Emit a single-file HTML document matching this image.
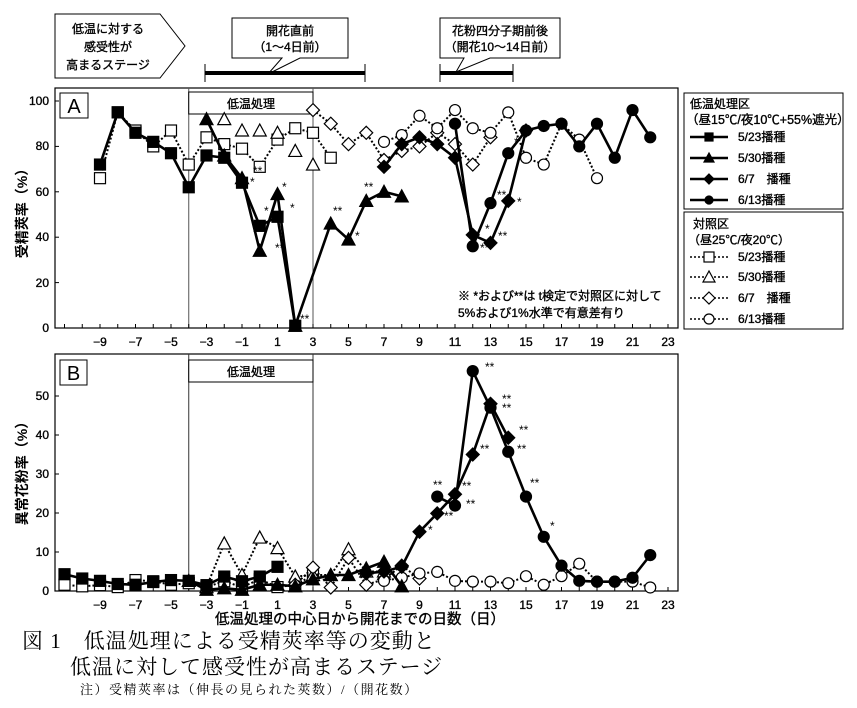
<!DOCTYPE html>
<html><head><meta charset="utf-8">
<style>
body{margin:0;background:#fff;}
svg{display:block;font-family:"Liberation Sans","Noto Sans CJK JP",sans-serif;}
.t{font-size:12px;fill:#000}
.b{stroke:#000;stroke-width:0.35}
.cap{font-family:"Liberation Serif","Noto Serif CJK SC",serif;font-size:21px;letter-spacing:1px}
</style></head>
<body>
<svg id="s" width="857" height="708" viewBox="0 0 857 708" xmlns="http://www.w3.org/2000/svg">
<rect width="857" height="708" fill="#fff"/>
<polygon points="55,14 160,14 185,46 160,78 55,78" fill="#fff" stroke="#000" stroke-width="1"/>
<g class="b">
<text class="t" x="108" y="33" text-anchor="middle" font-size="14">低温に対する</text>
<text class="t" x="108" y="51" text-anchor="middle" font-size="14">感受性が</text>
<text class="t" x="108" y="69" text-anchor="middle" font-size="14">高まるステージ</text>
</g>
<polygon points="232,18 348,18 348,58 300,58 268,74 282,58 232,58" fill="#fff" stroke="#000"/>
<text class="t b" x="290" y="35" text-anchor="middle">開花直前</text>
<text class="t b" x="290" y="51" text-anchor="middle">（1～4日前）</text>
<polygon points="440,18 560,18 560,58 490,58 456,72 464,58 440,58" fill="#fff" stroke="#000"/>
<text class="t b" x="500" y="35" text-anchor="middle">花粉四分子期前後</text>
<text class="t b" x="500" y="51" text-anchor="middle">（開花10～14日前）</text>
<line x1="205" y1="73" x2="365" y2="73" stroke="#000" stroke-width="4"/>
<line x1="205" y1="64" x2="205" y2="82" stroke="#000"/><line x1="365" y1="64" x2="365" y2="82" stroke="#000"/>
<line x1="440" y1="73" x2="513" y2="73" stroke="#000" stroke-width="4"/>
<line x1="440" y1="64" x2="440" y2="82" stroke="#000"/><line x1="513" y1="64" x2="513" y2="82" stroke="#000"/>

<rect x="55" y="88" width="623" height="240" fill="none" stroke="#000" stroke-width="1.2"/>
<rect x="55" y="354" width="623" height="237" fill="none" stroke="#000" stroke-width="1.2"/>
<rect x="60" y="93" width="28" height="25" fill="#fff" stroke="#000"/>
<text x="74" y="113" text-anchor="middle" font-size="20">A</text>
<rect x="60" y="360" width="27" height="25" fill="#fff" stroke="#000"/>
<text x="73.5" y="380" text-anchor="middle" font-size="20">B</text>
<line x1="188.75" y1="88" x2="188.75" y2="328" stroke="#555"/>
<line x1="313" y1="88" x2="313" y2="328" stroke="#555"/>
<rect x="188.75" y="92" width="124.25" height="22" fill="#fff" stroke="#000"/>
<text class="t b" x="251" y="108" text-anchor="middle">低温処理</text>
<line x1="188.75" y1="354" x2="188.75" y2="591" stroke="#333"/>
<line x1="313" y1="354" x2="313" y2="591" stroke="#333"/>
<rect x="188.75" y="360" width="124.25" height="22" fill="#fff" stroke="#000"/>
<text class="t b" x="251" y="376" text-anchor="middle">低温処理</text>

<g class="t b" text-anchor="end" font-size="11">
<text x="49" y="105">100</text><text x="49" y="150">80</text><text x="49" y="196">60</text>
<text x="49" y="241">40</text><text x="49" y="287">20</text><text x="49" y="332">0</text>
<text x="49" y="400">50</text><text x="49" y="439">40</text><text x="49" y="478">30</text>
<text x="49" y="517">20</text><text x="49" y="556">10</text><text x="49" y="595">0</text>
</g>
<text transform="translate(27,210) rotate(-90)" text-anchor="middle" font-size="14" font-weight="bold">受精莢率（%）</text>
<text transform="translate(27,470) rotate(-90)" text-anchor="middle" font-size="14" font-weight="bold">異常花粉率（%）</text>

<g class="t b" text-anchor="middle" font-size="11" id="xl"></g>

<text class="t b" x="458" y="300" font-size="12.5">※ *および**は t検定で対照区に対して</text>
<text class="t b" x="458" y="317" font-size="12.5">5%および1%水準で有意差有り</text>

<text class="b" x="360" y="624" text-anchor="middle" font-size="14.5">低温処理の中心日から開花までの日数（日）</text>

<rect x="684" y="93" width="159" height="116" fill="#fff" stroke="#000"/>
<rect x="684" y="212" width="159" height="117" fill="#fff" stroke="#000"/>
<g class="t b" font-size="13">
<text x="690" y="108">低温処理区</text>
<text x="686" y="124" font-size="12.5">（昼15℃/夜10℃+55%遮光）</text>
<text x="738" y="141">5/23播種</text><text x="738" y="162">5/30播種</text>
<text x="738" y="183">6/7　播種</text><text x="738" y="204">6/13播種</text>
<text x="693" y="228">対照区</text>
<text x="688" y="244">（昼25℃/夜20℃）</text>
<text x="738" y="261">5/23播種</text><text x="738" y="281">5/30播種</text>
<text x="738" y="302">6/7　播種</text><text x="738" y="323">6/13播種</text>
</g>

<g id="g"></g>

<text class="cap" x="22" y="648">図 1　低温処理による受精莢率等の変動と</text>
<text class="cap" x="70" y="674">低温に対して感受性が高まるステージ</text>
<text x="80" y="694" font-size="13" letter-spacing="1.5" font-family="'Liberation Serif','Noto Serif CJK SC',serif">注）受精莢率は（伸長の見られた莢数）/（開花数）</text>
</svg>
<script>
var NS="http://www.w3.org/2000/svg",g=document.getElementById("g"),xl=document.getElementById("xl");
function el(n,a,p){var e=document.createElementNS(NS,n);for(var k in a)e.setAttribute(k,a[k]);(p||g).appendChild(e);return e;}
function X(d){return 259.75+17.75*d;}
function YA(v){return 328-2.27*v;}
function YB(v){return 591-3.9*v;}
for(var d=-11;d<=23;d++){var x=X(d);
 el("line",{x1:x,y1:324,x2:x,y2:328,stroke:"#000"});
 el("line",{x1:x,y1:587,x2:x,y2:591,stroke:"#000"});
 if(d%2!=0&&d>=-9){var a=el("text",{x:x,y:346},xl);a.textContent=(d<0?"−"+(-d):d);
  var b=el("text",{x:x,y:609},xl);b.textContent=(d<0?"−"+(-d):d);}}
[0,20,40,60,80,100].forEach(function(v){el("line",{x1:55,y1:YA(v),x2:59,y2:YA(v),stroke:"#000"});});
[0,10,20,30,40,50].forEach(function(v){el("line",{x1:55,y1:YB(v),x2:59,y2:YB(v),stroke:"#000"});});
function mk(t,x,y,fill,s){s=s||5.5;var st={fill:fill?"#000":"#fff",stroke:"#000","stroke-width":1.2};
 if(t=="s")el("rect",Object.assign({x:x-s,y:y-s,width:2*s,height:2*s},st));
 if(t=="t")el("polygon",Object.assign({points:(x)+","+(y-s-1)+" "+(x-s-1)+","+(y+s)+" "+(x+s+1)+","+(y+s)},st));
 if(t=="d")el("polygon",Object.assign({points:x+","+(y-s-1)+" "+(x+s+1)+","+y+" "+x+","+(y+s+1)+" "+(x-s-1)+","+y},st));
 if(t=="c")el("circle",Object.assign({cx:x,cy:y,r:s},st));}
function ser(data,Y,t,fill,line){
 if(line){var p=data.map(function(q){return X(q[0])+","+Y(q[1]);}).join(" ");
  el("polyline",fill?{points:p,fill:"none",stroke:"#000","stroke-width":2.6}:{points:p,fill:"none",stroke:"#000","stroke-width":2,"stroke-dasharray":"2,2"});}
 data.forEach(function(q){mk(t,X(q[0]),Y(q[1]),fill);});}
ser([[-9,66],[-8,95],[-7,87],[-6,80],[-5,87],[-4,72],[-3,84],[-2,81],[-1,79],[0,71],[1,83],[2,88],[3,86],[4,75]],YA,"s",0,1);
ser([[-2,92],[-1,87],[0,87],[1,86],[2,78],[3,72]],YA,"t",0,0);
ser([[3,96],[4,90],[5,81],[6,86],[7,74],[8,78],[9,80],[10,86],[11,81],[12,72],[13,84]],YA,"d",0,1);
ser([[7,82],[8,85],[9,93.5],[10,88],[11,96],[12,88],[13,86],[14,95],[15,75],[16,72],[17,90],[18,83],[19,66]],YA,"c",0,1);
ser([[-9,72],[-8,95],[-7,86],[-6,82],[-5,77],[-4,62],[-3,76],[-2,75],[-1,64],[0,45],[1,49],[2,1]],YA,"s",1,1);
ser([[-3,92],[-2,76],[-1,66],[0,34],[1,59],[2,1],[4,46],[5,39],[6,56],[7,60],[8,58]],YA,"t",1,1);
ser([[7,71],[8,81],[9,84],[10,81],[11,75],[12,41],[13,37.5],[14,56],[15,87]],YA,"d",1,1);
ser([[11,90],[12,36],[13,55],[14,77],[15,87],[16,89],[17,90],[18,80],[19,90],[20,75],[21,96],[22,84]],YA,"c",1,1);
ser([[-11,1.6],[-10,1.2],[-9,1.5],[-8,1],[-7,2.8],[-6,2.5],[-5,1.6],[-4,2],[-3,1],[-2,2.5],[-1,1],[0,3],[1,1],[2,1.6],[3,4]],YB,"s",0,1);
ser([[-3,1],[-2,12.2],[-1,4.1],[0,13.7],[1,11],[2,3.7],[3,4.1],[4,4.1],[5,10.7],[6,5],[7,5]],YB,"t",0,1);
ser([[2,1.6],[3,6],[4,0.9],[5,8.5],[6,1.6],[7,3],[8,6.5],[9,3.2]],YB,"d",0,1);
ser([[7,2.6],[8,3.4],[9,4.5],[10,4.9],[11,2.6],[12,2.4],[13,2.4],[14,2],[15,3.8],[16,1.6],[17,3.8],[18,7],[19,2.4],[20,2.4],[21,2.4],[22,0.9]],YB,"c",0,1);
ser([[-11,4.3],[-10,3.2],[-9,2.6],[-8,1.8],[-7,1.6],[-6,2.3],[-5,2.8],[-4,2.6],[-3,1.5],[-2,3.7],[-1,2.5],[0,3.7],[1,6.2]],YB,"s",1,1);
ser([[-4,2.6],[-3,0.3],[-2,0.7],[-1,0.3],[0,1.6],[1,1.6],[2,1.2],[3,3],[4,4.1],[5,4.1],[6,5.8],[7,7.5],[8,1.2]],YB,"t",1,1);
ser([[6,4.5],[7,5],[8,6.2],[9,15.2],[10,19.9],[11,24.8],[12,35],[13,48],[14,39.3]],YB,"d",1,1);
ser([[10,24.2],[11,21.9],[12,56.4],[13,47],[14,35.7],[15,24.2],[16,13.9],[17,6.5],[18,2.6],[19,2.4],[20,2.4],[21,3.4],[22,9.2]],YB,"c",1,1);
[[253,175,"**"],[250,186,"*"],[264,215,"*"],[282,191,"*"],[290,212,"*"],[275,252,"**"],[300,323,"**"],[333,215,"**"],[355,240,"*"],[364,191,"**"],
 [514,146,"*"],[497,199,"**"],[517,206,"*"],[485,233,"*"],[498,240,"**"],[480,252,"**"],
 [485,371,"**"],[502,403,"**"],[502,412,"**"],[519,434,"**"],[480,453,"**"],[517,453,"**"],[433,489,"**"],[462,490,"**"],[466,508,"**"],[444,520,"**"],[428,534,"*"],[530,487,"**"],[550,530,"*"]
].forEach(function(s){var t=el("text",{x:s[0],y:s[1],"font-size":12});t.textContent=s[2];});
[[137,"s"],[158,"t"],[179,"d"],[200,"c"]].forEach(function(r){el("line",{x1:690,y1:r[0],x2:728,y2:r[0],stroke:"#000","stroke-width":2.5});mk(r[1],709,r[0],1,4);});
[[257,"s"],[277,"t"],[298,"d"],[319,"c"]].forEach(function(r){el("line",{x1:690,y1:r[0],x2:728,y2:r[0],stroke:"#000","stroke-width":1.5,"stroke-dasharray":"2,2"});mk(r[1],709,r[0],0,5);});
</script>
</body></html>
